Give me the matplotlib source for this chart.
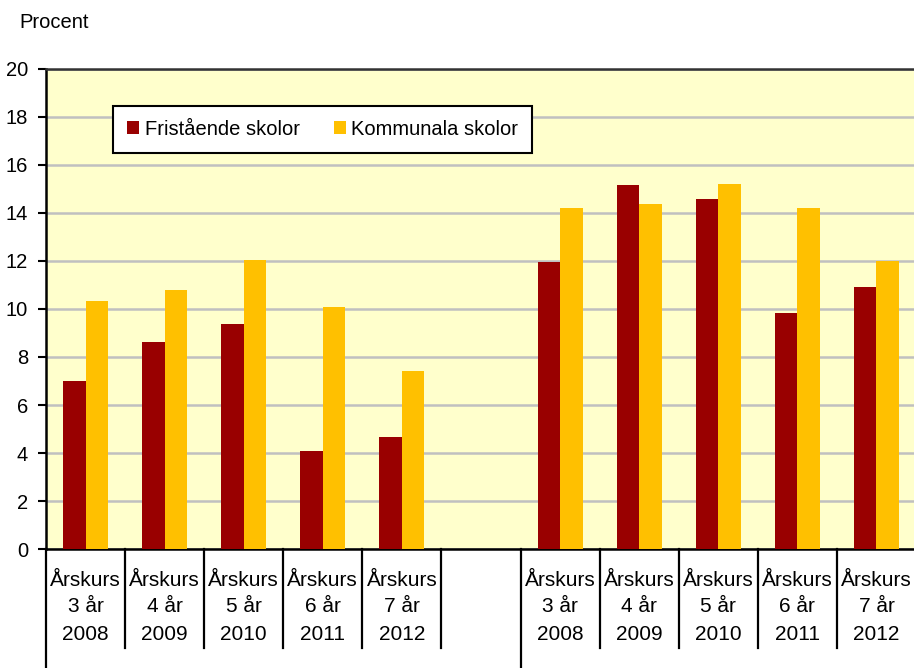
import matplotlib
matplotlib.use("Agg")
import matplotlib.pyplot as plt
import matplotlib.transforms as mtransforms
from matplotlib.patches import Patch

# ---- data ----
grades = ["3 år", "4 år", "5 år", "6 år", "7 år"]
years = ["2008", "2009", "2010", "2011", "2012"]
label_top = "Årskurs"
series_names = ["Fristående skolor", "Kommunala skolor"]
fristaende_a = [7.02, 8.61, 9.39, 4.07, 4.69]
kommunala_a = [10.32, 10.78, 12.03, 10.08, 7.41]
fristaende_b = [11.94, 15.14, 14.58, 9.83, 10.92]
kommunala_b = [14.18, 14.35, 15.21, 14.18, 12.00]
yticks = list(range(0, 21, 2))

colors = ["#990000", "#FFC000"]

plt.rcParams['font.family'] = ['Liberation Sans', 'DejaVu Sans']

W, H = 914, 668
fig = plt.figure(figsize=(W / 100, H / 100), dpi=100)
ax_l, ax_r, ax_t, ax_b = 46, 916, 68.5, 549.3
ax = fig.add_axes([ax_l / W, 1 - ax_b / H, (ax_r - ax_l) / W, (ax_b - ax_t) / H])
ax.set_facecolor("#FFFFCC")

n = len(grades)
pos_a = [i + 0.5 for i in range(n)]
pos_b = [i + n + 1.5 for i in range(n)]
bw = 0.285

ax.bar([p - bw / 2 for p in pos_a], fristaende_a, width=bw, color=colors[0], zorder=3)
ax.bar([p + bw / 2 for p in pos_a], kommunala_a, width=bw, color=colors[1], zorder=3)
ax.bar([p - bw / 2 for p in pos_b], fristaende_b, width=bw, color=colors[0], zorder=3)
ax.bar([p + bw / 2 for p in pos_b], kommunala_b, width=bw, color=colors[1], zorder=3)

nslots = 2 * n + 1
ax.set_xlim(0, nslots)
ax.set_ylim(0, 20)
ax.set_yticks(yticks)
ax.set_yticklabels([str(v) for v in yticks], fontsize=14.5)
ax.tick_params(axis='y', length=6, width=1.5, pad=7, colors='black')
ax.set_xticks([])
ax.yaxis.grid(True, color="#C0C0C0", linewidth=1.8, zorder=1)
ax.set_axisbelow(True)

for s in ["left", "bottom", "top"]:
    ax.spines[s].set_linewidth(1.8)
    ax.spines[s].set_color("black")
ax.spines["top"].set_color("#333333")
ax.spines["right"].set_visible(False)

# category labels and separators
trans = mtransforms.blended_transform_factory(ax.transData, ax.transAxes)
ah = ax_b - ax_t
def ay(ypix):
    return (ax_b - ypix) / ah

for group in (pos_a, pos_b):
    for p, g, yr in zip(group, grades, years):
        ax.text(p, ay(580), label_top, transform=trans, ha='center', va='center', fontsize=15)
        ax.text(p, ay(607), g, transform=trans, ha='center', va='center', fontsize=15)
        ax.text(p, ay(635), yr, transform=trans, ha='center', va='center', fontsize=15)

for i in range(nslots + 1):
    if i in (0, n + 1):
        y_end = ay(680)
    elif i == nslots:
        continue
    else:
        y_end = ay(648)
    ax.plot([i, i], [0, y_end], transform=trans, color='black', lw=1.6, clip_on=False, zorder=5)

# legend
handles = [Patch(facecolor=c, edgecolor='none') for c in colors]
leg = ax.legend(handles, series_names, loc='upper left',
                bbox_to_anchor=((113.3 - ax_l) / (ax_r - ax_l), ay(105.7)),
                ncol=2, fontsize=14.5, frameon=True, fancybox=False, framealpha=1,
                edgecolor='black', borderaxespad=0, handlelength=0.6, handleheight=0.6,
                handletextpad=0.25, columnspacing=1.7, borderpad=0.7)
leg.get_frame().set_linewidth(1.5)

fig.text(19 / W, 1 - 28 / H, "Procent", fontsize=14.5, ha='left', va='baseline')

fig.savefig("out.png", dpi=100, facecolor='white')
